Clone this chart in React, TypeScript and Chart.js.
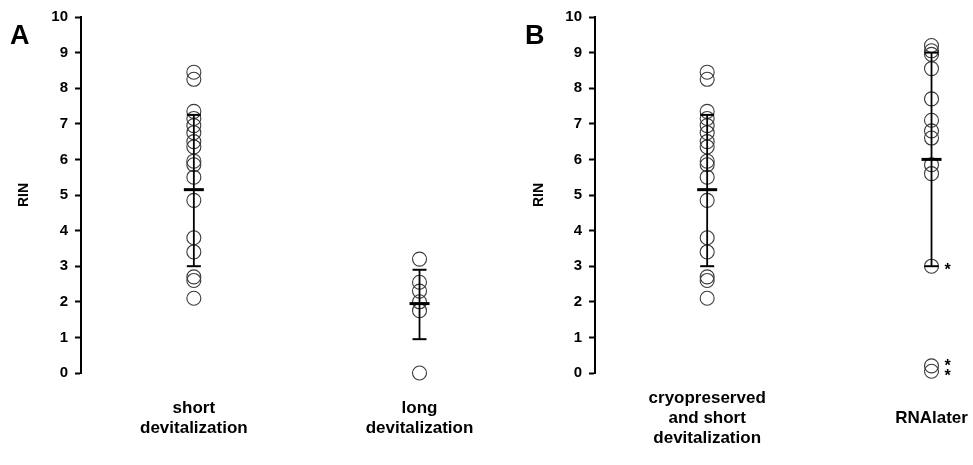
import React, { useEffect, useRef } from 'react';
import { Chart, registerables } from 'chart.js';

Chart.register(...registerables);

// ---------- data ----------
const catsA: string[][] = [['short', 'devitalization'], ['long', 'devitalization']];
const catsB: string[][] = [['cryopreserved', 'and short', 'devitalization'], ['RNAlater']];

const shortDev = [8.45, 8.25, 7.35, 7.15, 6.95, 6.75, 6.5, 6.35, 5.95, 5.85, 5.5, 4.85, 3.8, 3.4, 2.7, 2.6, 2.1];
const longDev = [3.2, 2.55, 2.3, 2.0, 1.75, 0.0];
const cryoShortDev = [8.45, 8.25, 7.35, 7.15, 6.95, 6.75, 6.5, 6.35, 5.95, 5.85, 5.5, 4.85, 3.8, 3.4, 2.7, 2.6, 2.1];
const rnaLater = [9.2, 9.05, 8.95, 8.55, 7.7, 7.1, 6.8, 6.6, 5.85, 5.6, 3.0, 0.2, 0.05];

const meanA = [5.15, 1.95];
const lowA = [3.0, 0.95];
const highA = [7.25, 2.9];

const meanB = [5.15, 6.0];
const lowB = [3.0, 3.0];
const highB = [7.25, 9.0];

const starCatB = [2, 2, 2];
const starValB = [3.0, 0.3, 0.0];

const yMin = 0;
const yMax = 10;
const yStep = 1;
const yTitle = 'RIN';
const panelLabels = ['A', 'B'];

const FONT = '"Liberation Sans", Arial, sans-serif';

type PanelOpts = {
  groups: number[][];
  cats: string[][];
  means: number[];
  lows: number[];
  highs: number[];
  yWidth: number;
  titlePad: number;
  xMax: number;
  crossAlign: 'near' | 'center';
  starCats?: number[];
  starVals?: number[];
};

function makeConfig(o: PanelOpts): any {
  const datasets: any[] = [];
  o.groups.forEach((vals, i) => {
    datasets.push({
      type: 'scatter',
      data: vals.map((v) => ({ x: i + 1, y: v })),
      pointStyle: 'circle',
      pointRadius: 7,
      pointBorderColor: '#3a3a3a',
      pointBackgroundColor: 'rgba(0,0,0,0)',
      pointBorderWidth: 1.1,
      showLine: false,
      clip: false,
      order: 2,
    });
  });
  o.lows.forEach((lo, i) => {
    datasets.push({
      type: 'line',
      data: [
        { x: i + 1, y: lo },
        { x: i + 1, y: o.highs[i] },
      ],
      showLine: true,
      borderColor: '#000',
      borderWidth: 1.8,
      pointStyle: 'line',
      pointRadius: 7,
      pointBorderWidth: 2,
      pointBorderColor: '#000',
      pointBackgroundColor: '#000',
      fill: false,
      clip: false,
      order: 1,
    });
  });
  datasets.push({
    type: 'scatter',
    data: o.means.map((m, i) => ({ x: i + 1, y: m })),
    pointStyle: 'line',
    pointRadius: 10,
    pointBorderWidth: 3,
    pointBorderColor: '#000',
    showLine: false,
    clip: false,
    order: 0,
  });

  const starPlugin = {
    id: 'stars',
    afterDatasetsDraw(chart: any) {
      if (!o.starCats || !o.starVals) return;
      const { ctx, scales } = chart;
      ctx.save();
      ctx.fillStyle = '#000';
      ctx.font = `bold 16px ${FONT}`;
      ctx.textAlign = 'left';
      ctx.textBaseline = 'middle';
      o.starVals.forEach((v, i) => {
        const x = scales.x.getPixelForValue(o.starCats![i]) + 13;
        const y = scales.y.getPixelForValue(v) + 4;
        ctx.fillText('*', x, y);
      });
      ctx.restore();
    },
  };

  return {
    type: 'scatter',
    data: { datasets },
    plugins: [starPlugin],
    options: {
      animation: false,
      responsive: true,
      maintainAspectRatio: false,
      layout: { padding: { top: 17, left: 0, right: 0, bottom: 0 } },
      plugins: { legend: { display: false }, tooltip: { enabled: false } },
      events: [],
      scales: {
        x: {
          type: 'linear',
          min: 0.5,
          max: o.xMax,
          afterBuildTicks: (s: any) => {
            s.ticks = o.cats.map((_, i) => ({ value: i + 1 }));
          },
          afterFit: (s: any) => {
            s.height = 92;
            s.paddingLeft = 0;
            s.paddingRight = 0;
          },
          ticks: {
            autoSkip: false,
            maxRotation: 0,
            minRotation: 0,
            padding: 25,
            crossAlign: o.crossAlign,
            color: '#000',
            font: { family: FONT, size: 17, weight: 'bold', lineHeight: '20px' },
            callback: (v: any) => o.cats[Math.round(v) - 1] ?? '',
          },
          grid: { display: false, drawTicks: false },
          border: { display: false },
        },
        y: {
          type: 'linear',
          min: yMin,
          max: yMax,
          afterFit: (s: any) => {
            s.width = o.yWidth;
            s.paddingTop = 0;
            s.paddingBottom = 0;
          },
          ticks: {
            stepSize: yStep,
            padding: 7,
            color: '#000',
            font: { family: FONT, size: 15, weight: 'bold' },
          },
          grid: {
            drawOnChartArea: false,
            drawTicks: true,
            tickLength: 6,
            tickWidth: 2,
            tickColor: '#000',
            color: '#000',
          },
          border: { display: true, color: '#000', width: 2 },
          title: {
            display: true,
            text: yTitle,
            color: '#000',
            font: { family: FONT, size: 14, weight: 'bold' },
            padding: { top: o.titlePad, bottom: 0 },
          },
        },
      },
    },
  };
}

function Panel(props: { opts: PanelOpts; left: number; width: number; label: string; labelLeft: number }) {
  const ref = useRef<HTMLCanvasElement | null>(null);
  useEffect(() => {
    if (!ref.current) return;
    const chart = new Chart(ref.current, makeConfig(props.opts));
    return () => chart.destroy();
  }, []);
  return (
    <>
      <div
        style={{
          position: 'absolute',
          left: props.left,
          top: 0,
          width: props.width,
          height: 465,
        }}
      >
        <canvas ref={ref} />
      </div>
      <div
        style={{
          position: 'absolute',
          left: props.labelLeft,
          top: 22,
          fontFamily: FONT,
          fontWeight: 'bold',
          fontSize: 27,
          lineHeight: '26px',
          color: '#000',
        }}
      >
        {props.label}
      </div>
    </>
  );
}

export default function App() {
  const optsA: PanelOpts = {
    groups: [shortDev, longDev],
    cats: catsA,
    means: meanA,
    lows: lowA,
    highs: highA,
    yWidth: 81,
    titlePad: 16,
    xMax: 2.237,
    crossAlign: 'near',
  };
  const optsB: PanelOpts = {
    groups: [cryoShortDev, rnaLater],
    cats: catsB,
    means: meanB,
    lows: lowB,
    highs: highB,
    yWidth: 109,
    titlePad: 45,
    xMax: 2.127,
    crossAlign: 'center',
    starCats: starCatB,
    starVals: starValB,
  };
  return (
    <div style={{ position: 'absolute', left: 0, top: 0, width: 973, height: 465, background: '#fff', overflow: 'hidden' }}>
      <Panel opts={optsA} left={0} width={486} label={panelLabels[0]} labelLeft={10} />
      <Panel opts={optsB} left={486} width={487} label={panelLabels[1]} labelLeft={525} />
    </div>
  );
}
